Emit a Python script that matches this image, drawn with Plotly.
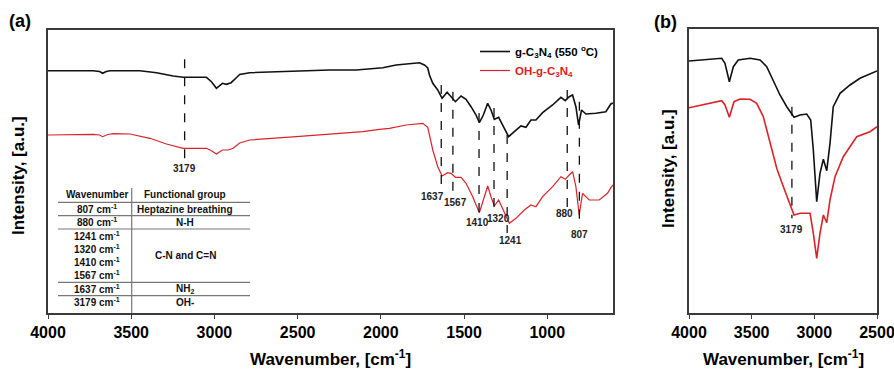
import plotly.graph_objects as go

# ---------------- data (arbitrary intensity units) ----------------
# Panel (a): full spectrum
wn_a_black = [4000, 3730, 3690, 3672, 3650, 3628, 3448, 3348, 3248, 3188, 3048, 3018, 2988, 2952,
              2928, 2900, 2870, 2848, 2788, 2608, 2308, 2148, 1988, 1908, 1828, 1768, 1738, 1718,
              1708, 1688, 1658, 1632, 1602, 1578, 1552, 1518, 1488, 1458, 1428, 1408, 1384, 1358,
              1338, 1318, 1292, 1258, 1232, 1198, 1158, 1128, 1098, 1068, 1028, 968, 918, 892,
              868, 848, 828, 812, 794, 768, 708, 648, 618, 605]
int_a_black = [242.3, 242.3, 241.5, 239.7, 241.5, 242.3, 242.3, 240.3, 237.0, 235.7, 235.7, 231.3,
               224.7, 229.7, 228.7, 230.3, 235.0, 238.5, 240.3, 241.3, 243.0, 243.0, 245.3, 248.0,
               249.5, 250.3, 248.0, 245.0, 238.0, 229.7, 223.0, 214.7, 220.7, 216.3, 211.3, 217.0,
               213.7, 206.3, 198.0, 190.3, 198.0, 209.7, 203.0, 193.7, 195.7, 184.7, 176.3, 181.3,
               187.0, 185.7, 193.0, 193.0, 200.3, 208.0, 215.7, 212.3, 216.3, 218.0, 206.3, 188.0,
               203.0, 199.0, 199.7, 201.3, 209.0, 210.0]

wn_a_red = [4000, 3728, 3690, 3672, 3640, 3608, 3508, 3388, 3288, 3188, 3048, 3018, 2988, 2952,
            2918, 2888, 2848, 2788, 2508, 2308, 2108, 2008, 1948, 1848, 1748, 1718, 1688, 1658,
            1632, 1598, 1578, 1552, 1518, 1488, 1448, 1408, 1384, 1358, 1338, 1318, 1292, 1258,
            1228, 1188, 1138, 1098, 1068, 1028, 968, 918, 892, 868, 848, 828, 808, 788, 748,
            688, 638, 614, 605]
int_a_red = [178.0, 178.7, 178.0, 176.3, 178.5, 179.3, 179.0, 174.7, 169.0, 164.7, 164.7, 162.3,
             159.0, 163.0, 163.0, 164.7, 170.0, 173.0, 176.3, 178.7, 181.3, 183.7, 184.7, 188.0,
             189.7, 185.7, 163.0, 146.3, 137.0, 140.3, 139.7, 135.7, 135.7, 129.7, 116.3, 100.3,
             113.0, 127.0, 116.3, 107.0, 113.0, 101.3, 89.7, 94.7, 103.0, 108.0, 106.3, 116.3,
             126.3, 136.3, 133.7, 138.0, 141.3, 126.3, 98.0, 119.7, 113.0, 113.0, 119.7, 126.3, 128.0]

# Panel (b): 4000-2500 cm-1 region
wn_b_black = [4000, 3859, 3739, 3713, 3678, 3646, 3607, 3513, 3433, 3380, 3327, 3274, 3220, 3162,
              3114, 3061, 3029, 3008, 2981, 2955, 2928, 2901, 2875, 2849, 2795, 2715, 2636, 2500]
int_b_black = [252.0, 253.7, 254.7, 249.7, 231.3, 246.3, 253.0, 254.7, 253.0, 246.3, 231.3, 218.0,
               206.3, 195.7, 198.0, 199.0, 193.0, 163.0, 111.3, 139.7, 153.7, 142.3, 169.7, 206.3,
               219.7, 228.0, 234.7, 242.0]
wn_b_red = [4000, 3859, 3739, 3713, 3678, 3641, 3593, 3513, 3460, 3407, 3354, 3300, 3247, 3194,
            3162, 3114, 3061, 3034, 3008, 2981, 2955, 2928, 2901, 2875, 2835, 2769, 2662, 2556, 2500]
int_b_red = [205.3, 208.7, 212.3, 208.0, 195.7, 211.3, 214.0, 213.7, 209.7, 196.3, 169.7, 144.7,
             126.3, 109.7, 98.0, 99.7, 99.7, 99.7, 79.7, 54.7, 79.7, 98.0, 90.3, 113.0, 136.3,
             156.3, 176.3, 181.3, 186.3]

# Marked peaks
peaks_a = [3179, 1637, 1567, 1410, 1320, 1241, 880, 807]
peaks_b = [3179]

# Table of assignments
table_wavenumbers = ["807 cm<sup>-1</sup>", "880 cm<sup>-1</sup>", "1241 cm<sup>-1</sup>",
                     "1320 cm<sup>-1</sup>", "1410 cm<sup>-1</sup>", "1567 cm<sup>-1</sup>",
                     "1637 cm<sup>-1</sup>", "3179 cm<sup>-1</sup>"]
table_groups = ["Heptazine breathing", "N-H", "C-N and C=N", "NH<sub>2</sub>", "OH-"]
table_header = ["Wavenumber", "Functional group"]

series_names = ["g-C<sub>3</sub>N<sub>4</sub> (550 <sup>o</sup>C)",
                "<span style='color:#e0191f'>OH-g-C<sub>3</sub>N<sub>4</sub></span>"]
x_ticks_a = [4000, 3500, 3000, 2500, 2000, 1500, 1000]
x_ticks_b = [4000, 3500, 3000, 2500]

# ---------------- styling / positions ----------------
W, H = 894, 376
FONT = "Liberation Sans, Arial, sans-serif"
BLACK = "#111111"
RED = "#d8232a"
FRAME = "#3a3a3a"


def px(x):
    return x / W


def py(y):
    return 1 - y / H


# dashed marker line extents (intensity units) and label placement
peak_top_a = [253.7, 228.0, 221.3, 200.0, 205.0, 178.0, 223.0, 211.3]
peak_bot_a = [152.3, 123.0, 116.3, 98.0, 103.0, 80.0, 105.0, 85.0]
label_y_a = [145.0, 116.5, 111.0, 90.3, 95.0, 73.0, 100.0, 79.0]
label_dx_a = [0, -9, 3, -2, 4, 3, -3, 0]
peak_top_b = [206.3]
peak_bot_b = [94.7]
label_y_b = [83.7]

fig = go.Figure()

fig.add_trace(go.Scatter(x=wn_a_black, y=int_a_black, mode="lines", name=series_names[0],
                         line=dict(color=BLACK, width=1.6), xaxis="x", yaxis="y"))
fig.add_trace(go.Scatter(x=wn_a_red, y=int_a_red, mode="lines", name=series_names[1],
                         line=dict(color=RED, width=1.2), xaxis="x", yaxis="y"))
fig.add_trace(go.Scatter(x=wn_b_black, y=int_b_black, mode="lines", showlegend=False,
                         line=dict(color=BLACK, width=1.6), xaxis="x2", yaxis="y2"))
fig.add_trace(go.Scatter(x=wn_b_red, y=int_b_red, mode="lines", showlegend=False,
                         line=dict(color=RED, width=1.6), xaxis="x2", yaxis="y2"))


def ann(x, y, text, font, xref="paper", yref="paper", **kw):
    d = dict(x=x, y=y, xref=xref, yref=yref, text=text, showarrow=False, font=font,
             xanchor="center", yanchor="middle")
    d.update(kw)
    return d


annotations = []
pfont = dict(family=FONT, size=10, color="#222")
for wn, t, b, ly, dx in zip(peaks_a, peak_top_a, peak_bot_a, label_y_a, label_dx_a):
    fig.add_trace(go.Scatter(x=[wn, wn], y=[t, b], mode="lines", showlegend=False, hoverinfo="skip",
                             line=dict(color=BLACK, width=1.3, dash="dash"), xaxis="x", yaxis="y"))
    annotations.append(ann(wn, ly, f"<b>{wn}</b>", pfont, "x", "y", xshift=dx))
for wn, t, b, ly in zip(peaks_b, peak_top_b, peak_bot_b, label_y_b):
    fig.add_trace(go.Scatter(x=[wn, wn], y=[t, b], mode="lines", showlegend=False, hoverinfo="skip",
                             line=dict(color=BLACK, width=1.3, dash="dash"), xaxis="x2", yaxis="y2"))
    annotations.append(ann(wn, ly, f"<b>{wn}</b>", pfont, "x2", "y2"))

# axis titles and panel labels
title_font = dict(family=FONT, size=17, color="black")
label_font = dict(family=FONT, size=18, color="black")
annotations += [
    ann(px(330.5), py(358), "<b>Wavenumber, [cm<sup>-1</sup>]</b>", title_font),
    ann(px(783), py(358), "<b>Wavenumber, [cm<sup>-1</sup>]</b>", title_font),
    ann(px(18), py(176), "<b>Intensity, [a.u.]</b>", title_font, textangle=-90),
    ann(px(668), py(169), "<b>Intensity, [a.u.]</b>", title_font, textangle=-90),
    ann(px(20), py(21), "<b>(a)</b>", label_font),
    ann(px(665), py(22), "<b>(b)</b>", label_font),
]

# table (text + rules)
tfont = dict(family=FONT, size=10, color="#111")
col1_x, col2_x = 97, 185
annotations.append(ann(px(col1_x), py(194), f"<b>{table_header[0]}</b>", tfont))
annotations.append(ann(px(col2_x), py(194), f"<b>{table_header[1]}</b>", tfont))
row_y = [209, 222, 236, 249, 262, 275, 289, 302]
for label, yy in zip(table_wavenumbers, row_y):
    annotations.append(ann(px(col1_x), py(yy), f"<b>{label}</b>", tfont))
group_y = [209, 222, 255, 289, 302]
for label, yy in zip(table_groups, group_y):
    annotations.append(ann(px(col2_x), py(yy), f"<b>{label}</b>", tfont))

shapes = []
for yy in [202.3, 215.7, 229, 282.3, 295.7]:
    shapes.append(dict(type="line", xref="paper", yref="paper", x0=px(58), x1=px(250),
                       y0=py(yy), y1=py(yy), line=dict(color="#777", width=1.2)))
shapes.append(dict(type="line", xref="paper", yref="paper", x0=px(131.7), x1=px(131.7),
                   y0=py(188), y1=py(313), line=dict(color="#777", width=1.2)))

axis_common = dict(showline=True, mirror=True, linecolor=FRAME, linewidth=1.5, showgrid=False,
                   zeroline=False, automargin=False)
xa_common = dict(axis_common, ticks="outside", ticklen=4, tickcolor=FRAME, tickwidth=1.2,
                 ticklabeloverflow="allow",
                 tickfont=dict(family=FONT, size=16, color="black", weight="bold"))

fig.update_layout(
    width=W, height=H,
    autosize=False,
    margin=dict(l=0, r=0, t=0, b=0, pad=0),
    paper_bgcolor="white", plot_bgcolor="white",
    xaxis=dict(xa_common, domain=[px(48), px(613)], range=[4000, 605], tickvals=x_ticks_a,
               anchor="y"),
    yaxis=dict(axis_common, domain=[py(313), py(30)], range=[0, 283], showticklabels=False,
               ticks="", anchor="x"),
    xaxis2=dict(xa_common, domain=[px(689), px(877)], range=[4000, 2500], tickvals=x_ticks_b,
                anchor="y2"),
    yaxis2=dict(axis_common, domain=[py(313), py(29)], range=[0, 284], showticklabels=False,
                ticks="", anchor="x2"),
    legend=dict(x=px(604), y=py(37), xanchor="right", yanchor="top", bgcolor="rgba(0,0,0,0)",
                font=dict(family=FONT, size=11.5, color="black", weight="bold"),
                itemwidth=30, tracegroupgap=0),
    annotations=annotations,
    shapes=shapes,
    showlegend=True,
)

fig.write_html("out.html", config={"displayModeBar": False},
               post_script="document.body.style.margin='0';document.body.style.overflow='hidden';")
